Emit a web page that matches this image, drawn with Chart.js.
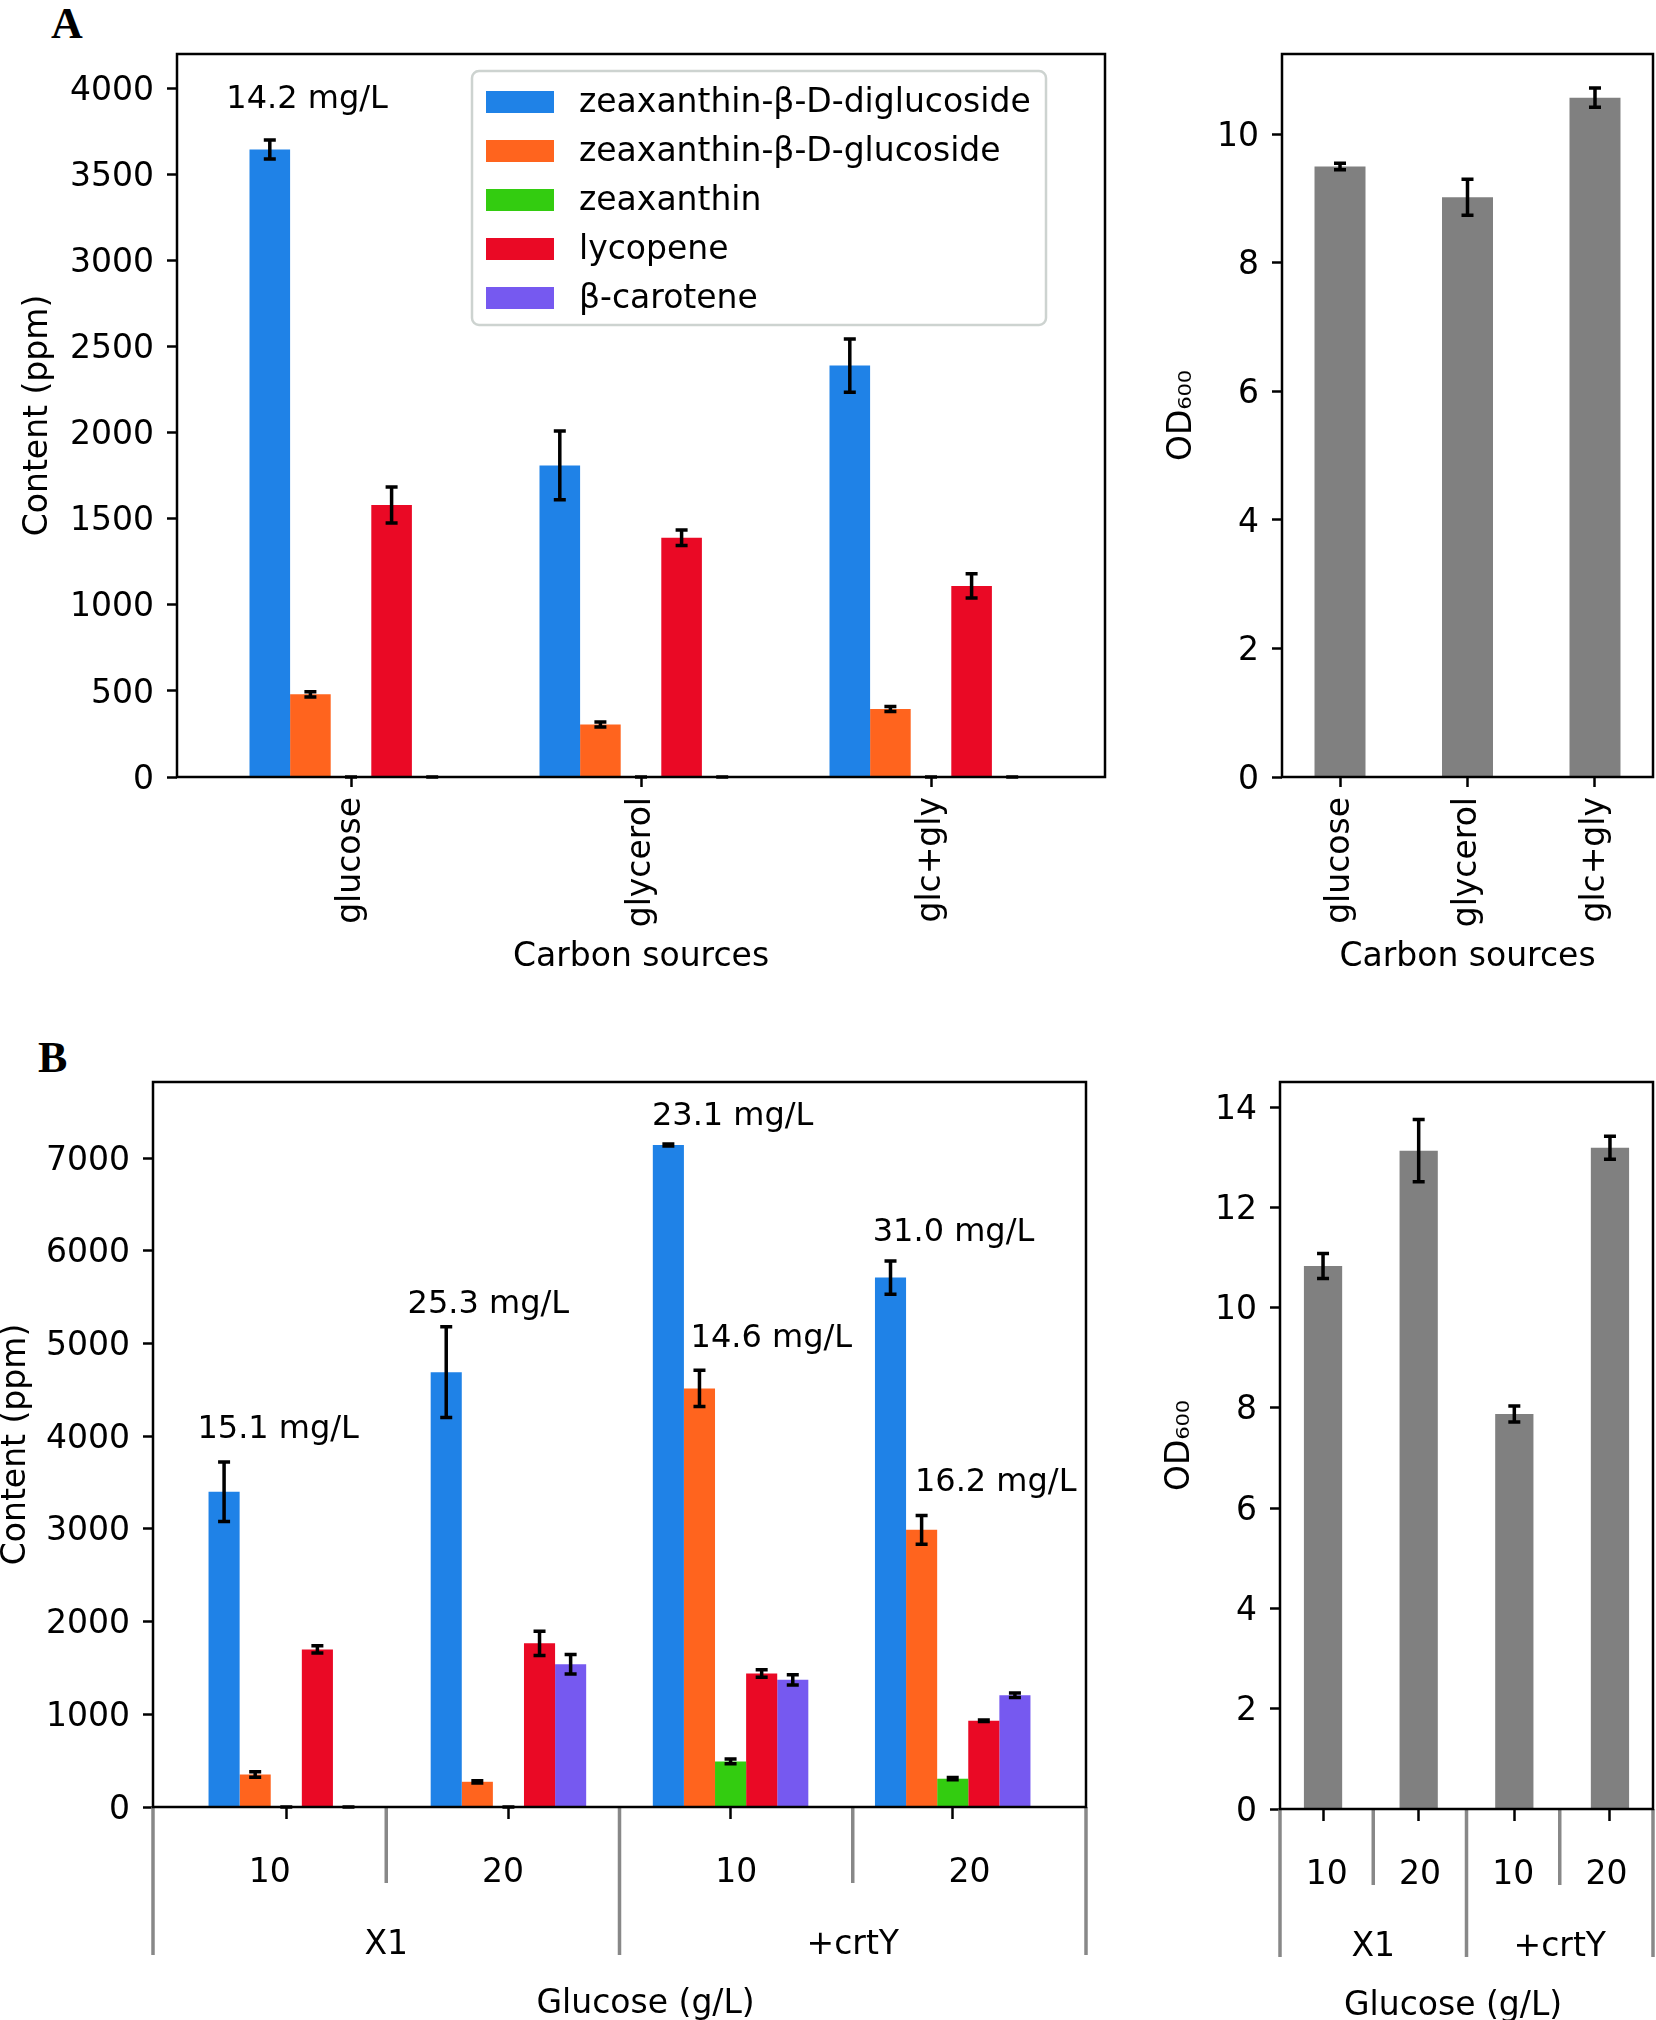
<!DOCTYPE html>
<html>
<head>
<meta charset="utf-8">
<script src="https://cdn.jsdelivr.net/npm/chart.js@4.4.1/dist/chart.umd.min.js"></script>
<style>
body { margin: 0; background: #fff; width: 1656px; height: 2020px; position: relative; overflow: hidden; }
canvas { position: absolute; }
.panel { position: absolute; font: bold 44px "Liberation Serif", serif; line-height: 1; color: #000; }
</style>
</head>
<body>
<div class="panel" style="left:51px; top:2px">A</div>
<div class="panel" style="left:38px; top:1036px">B</div>
<canvas id="aLeft" width="1110" height="1000" style="left:0; top:0"></canvas>
<canvas id="aRight" width="546" height="1000" style="left:1110px; top:0"></canvas>
<canvas id="bLeft" width="1110" height="1010" style="left:0; top:1010px"></canvas>
<canvas id="bRight" width="546" height="1010" style="left:1110px; top:1010px"></canvas>
<script>
// ---- data ----
const compounds = ["zeaxanthin-β-D-diglucoside", "zeaxanthin-β-D-glucoside", "zeaxanthin", "lycopene", "β-carotene"];
const compoundColors = ["#1f82e7", "#ff641e", "#33cc10", "#ea0925", "#7659f0"];

// panel A: carbon sources
const carbonSources = ["glucose", "glycerol", "glc+gly"];
const aDiglucoside = [3645, 1810, 2390];
const aGlucoside = [480, 305, 395];
const aZeaxanthin = [0, 0, 0];
const aLycopene = [1580, 1390, 1110];
const aCarotene = [0, 0, 0];
const aDiglucosideErr = [55, 200, 155];
const aGlucosideErr = [15, 15, 15];
const aZeaxanthinErr = [0, 0, 0];
const aLycopeneErr = [105, 45, 70];
const aCaroteneErr = [0, 0, 0];
const aOD = [9.5, 9.02, 10.57];
const aODErr = [0.05, 0.28, 0.15];
const aYTicks = [0, 500, 1000, 1500, 2000, 2500, 3000, 3500, 4000];
const aODTicks = [0, 2, 4, 6, 8, 10];
const aNotes = ["14.2 mg/L"];
const aNoteAt = [[-0.43, 3935]];

// panel B: glucose level x strain
const glucoseLevels = ["10", "20", "10", "20"];
const strains = ["X1", "+crtY"];
const bDiglucoside = [3400, 4690, 7140, 5710];
const bGlucoside = [350, 272, 4515, 2990];
const bZeaxanthin = [0, 0, 492, 305];
const bLycopene = [1700, 1765, 1440, 930];
const bCarotene = [0, 1540, 1372, 1205];
const bDiglucosideErr = [320, 490, 10, 180];
const bGlucosideErr = [30, 12, 195, 155];
const bZeaxanthinErr = [0, 0, 25, 12];
const bLycopeneErr = [40, 130, 40, 8];
const bCaroteneErr = [0, 105, 55, 25];
const bOD = [10.83, 13.13, 7.88, 13.19];
const bODErr = [0.25, 0.62, 0.16, 0.23];
const bYTicks = [0, 1000, 2000, 3000, 4000, 5000, 6000, 7000];
const bODTicks = [0, 2, 4, 6, 8, 10, 12, 14];
const bNotes = ["15.1 mg/L", "25.3 mg/L", "23.1 mg/L", "14.6 mg/L", "31.0 mg/L", "16.2 mg/L"];
const bNoteAt = [[-0.40, 4066], [0.546, 5416], [1.646, 7451], [1.82, 5054], [2.64, 6199], [2.83, 3499]];

// ---- plugins ----
const FONT = '"DejaVu Sans", sans-serif';
Chart.defaults.font.family = FONT;
Chart.defaults.font.size = 33;
Chart.defaults.color = "#000";

const errorBars = {
  id: "errorBars",
  afterDatasetsDraw(chart) {
    const ctx = chart.ctx;
    const y = chart.scales.y;
    ctx.save();
    ctx.strokeStyle = "#000";
    ctx.lineWidth = 3.5;
    chart.data.datasets.forEach((ds, i) => {
      chart.getDatasetMeta(i).data.forEach((bar, j) => {
        const v = ds.data[j].y;
        const e = ds.errors[j];
        const top = y.getPixelForValue(v + e);
        const bot = y.getPixelForValue(v - e);
        ctx.beginPath();
        ctx.moveTo(bar.x, top); ctx.lineTo(bar.x, bot);
        ctx.moveTo(bar.x - 6, top); ctx.lineTo(bar.x + 6, top);
        ctx.moveTo(bar.x - 6, bot); ctx.lineTo(bar.x + 6, bot);
        ctx.stroke();
      });
    });
    ctx.restore();
  }
};

const notes = {
  id: "notes",
  afterDatasetsDraw(chart, args, o) {
    if (!o.texts) return;
    const ctx = chart.ctx;
    ctx.save();
    ctx.font = "32px " + FONT;
    ctx.fillStyle = "#000";
    ctx.textAlign = "left";
    ctx.textBaseline = "middle";
    o.texts.forEach((t, i) => {
      ctx.fillText(t, chart.scales.x.getPixelForValue(o.at[i][0]), chart.scales.y.getPixelForValue(o.at[i][1]));
    });
    ctx.restore();
  }
};

const legendBox = {
  id: "legendBox",
  afterDraw(chart, args, o) {
    if (!o.show) return;
    const ctx = chart.ctx;
    ctx.save();
    ctx.beginPath();
    ctx.roundRect(472, 71, 574, 254, 7);
    ctx.fillStyle = "rgba(255,255,255,0.8)";
    ctx.fill();
    ctx.strokeStyle = "#cdd3d0";
    ctx.lineWidth = 2.5;
    ctx.stroke();
    ctx.font = "33px " + FONT;
    ctx.textBaseline = "middle";
    chart.data.datasets.forEach((ds, i) => {
      const cy = 102 + i * 49;
      ctx.fillStyle = ds.backgroundColor;
      ctx.fillRect(486, cy - 11, 68, 22);
      ctx.fillStyle = "#000";
      ctx.fillText(ds.label, 579, cy + 1);
    });
    ctx.restore();
  }
};

const groupAxis = {
  id: "groupAxis",
  afterDraw(chart, args, o) {
    if (!o.rows) return;
    const ctx = chart.ctx;
    const a = chart.chartArea;
    const w = a.right - a.left;
    ctx.save();
    ctx.strokeStyle = "#888";
    ctx.lineWidth = 3.5;
    for (let k = 0; k <= 4; k++) {
      const x = a.left + w * k / 4;
      ctx.beginPath();
      ctx.moveTo(x, a.bottom);
      ctx.lineTo(x, a.bottom + (k % 2 ? 76 : 148));
      ctx.stroke();
    }
    ctx.fillStyle = "#000";
    ctx.font = "33px " + FONT;
    ctx.textAlign = "center";
    ctx.textBaseline = "middle";
    o.rows[0].forEach((t, k) => ctx.fillText(t, a.left + w * (k + 0.5) / 4, a.bottom + 66));
    o.rows[1].forEach((t, k) => ctx.fillText(t, a.left + w * (k + 0.5) / 2, a.bottom + 138));
    ctx.fillText(o.title, a.left + w * o.titleAt, a.bottom + 197);
    ctx.restore();
  }
};

const frame = {
  id: "frame",
  afterDraw(chart) {
    const ctx = chart.ctx;
    const a = chart.chartArea;
    ctx.save();
    ctx.strokeStyle = "#000";
    ctx.lineWidth = 2.5;
    ctx.strokeRect(a.left, a.top, a.right - a.left, a.bottom - a.top);
    ctx.restore();
  }
};

function makeChart(id, cfg) {
  const n = cfg.labels.length;
  return new Chart(document.getElementById(id), {
    type: "bar",
    data: {
      datasets: cfg.series.map((s, i) => ({
        label: cfg.names[i],
        data: s.map((v, j) => ({ x: j, y: v })),
        errors: cfg.errors[i],
        backgroundColor: cfg.colors[i],
        categoryPercentage: cfg.width,
        barPercentage: 1
      }))
    },
    options: {
      responsive: false,
      animation: false,
      devicePixelRatio: 1,
      layout: { padding: cfg.padding },
      plugins: {
        legend: { display: false },
        tooltip: { enabled: false },
        notes: { texts: cfg.notes, at: cfg.noteAt },
        legendBox: { show: !!cfg.legend },
        groupAxis: cfg.group || {}
      },
      scales: {
        x: {
          type: "linear",
          offset: false,
          min: -cfg.xPad,
          max: n - 1 + cfg.xPad,
          afterBuildTicks: s => { s.ticks = cfg.labels.map((_, i) => ({ value: i })); },
          afterFit: s => { s.height = cfg.xHeight; },
          border: { display: false },
          grid: { offset: false, drawOnChartArea: false, drawTicks: true, tickLength: cfg.group ? 12 : 10, tickColor: "#000", tickWidth: 2.5 },
          ticks: cfg.group ? { display: false } : {
            autoSkip: false, minRotation: 90, maxRotation: 90, padding: 10,
            callback: v => cfg.labels[v]
          },
          title: cfg.group ? { display: false } : {
            display: true, text: cfg.xTitle, padding: 0, font: { size: 33, lineHeight: 1 }
          }
        },
        y: {
          min: 0,
          max: cfg.yMax,
          afterBuildTicks: s => { s.ticks = cfg.yTicks.map(v => ({ value: v })); },
          afterFit: s => { s.width = cfg.yWidth; },
          border: { display: false },
          grid: { drawOnChartArea: false, drawTicks: true, tickLength: 10, tickColor: "#000", tickWidth: 2.5 },
          ticks: { padding: 13, labelOffset: 3, callback: v => String(v) },
          title: { display: true, text: cfg.yTitle, padding: 0, font: { size: 33, lineHeight: 1 } }
        }
      }
    },
    plugins: [errorBars, notes, legendBox, groupAxis, frame]
  });
}

makeChart("aLeft", {
  labels: carbonSources, names: compounds, colors: compoundColors,
  series: [aDiglucoside, aGlucoside, aZeaxanthin, aLycopene, aCarotene],
  errors: [aDiglucosideErr, aGlucosideErr, aZeaxanthinErr, aLycopeneErr, aCaroteneErr],
  width: 0.7, xPad: 0.6, yMax: 4200, yTicks: aYTicks,
  yTitle: "Content (ppm)", xTitle: "Carbon sources",
  notes: aNotes, noteAt: aNoteAt, legend: true,
  padding: { left: 22, top: 54, right: 5, bottom: 26 }, yWidth: 155, xHeight: 197
});

makeChart("aRight", {
  labels: carbonSources, names: ["OD600"], colors: ["#808080"],
  series: [aOD], errors: [aODErr],
  width: 0.4, xPad: 0.455, yMax: 11.25, yTicks: aODTicks,
  yTitle: "OD₆₀₀", xTitle: "Carbon sources",
  padding: { left: 56, top: 54, right: 3, bottom: 26 }, yWidth: 116, xHeight: 197
});

makeChart("bLeft", {
  labels: glucoseLevels, names: compounds, colors: compoundColors,
  series: [bDiglucoside, bGlucoside, bZeaxanthin, bLycopene, bCarotene],
  errors: [bDiglucosideErr, bGlucosideErr, bZeaxanthinErr, bLycopeneErr, bCaroteneErr],
  width: 0.7, xPad: 0.6, yMax: 7820, yTicks: bYTicks,
  yTitle: "Content (ppm)",
  notes: bNotes, noteAt: bNoteAt,
  group: { rows: [glucoseLevels, strains], title: "Glucose (g/L)", titleAt: 0.528 },
  padding: { left: 0, top: 72, right: 24, bottom: 200 }, yWidth: 153, xHeight: 13
});

makeChart("bRight", {
  labels: glucoseLevels, names: ["OD600"], colors: ["#808080"],
  series: [bOD], errors: [bODErr],
  width: 0.4, xPad: 0.45, yMax: 14.5, yTicks: bODTicks,
  yTitle: "OD₆₀₀",
  group: { rows: [glucoseLevels, strains], title: "Glucose (g/L)", titleAt: 0.464 },
  padding: { left: 54, top: 72, right: 3, bottom: 198 }, yWidth: 116, xHeight: 13
});
</script>
</body>
</html>
